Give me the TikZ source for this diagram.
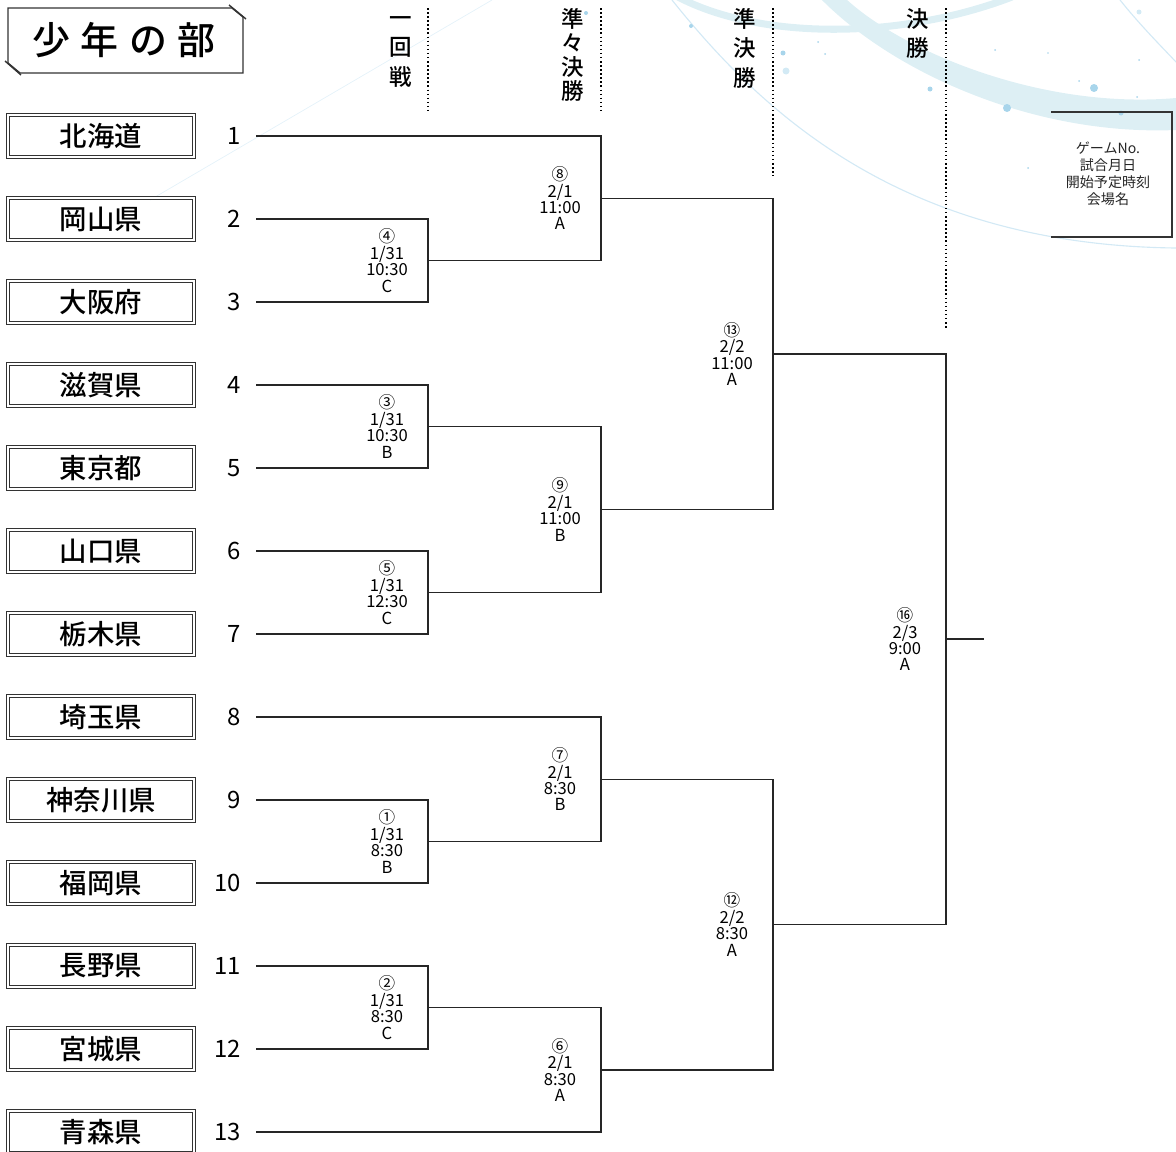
\documentclass[tikz,border=0pt]{standalone}
\usepackage{fontspec}
\setmainfont{Noto Sans CJK JP}
\IfFontExistsTF{Noto Sans CJK JP Medium}
	{\newfontfamily\medfont{Noto Sans CJK JP Medium}}
	{\newfontfamily\medfont{Noto Sans CJK JP}[FakeBold=0.8]}
\usetikzlibrary{positioning}

\definecolor{swoosh}{HTML}{DDEFF4}
\definecolor{dotblue}{HTML}{A8D5EB}
\definecolor{thinblue}{HTML}{D3E9F5}

\tikzset{
	team/.style={draw=black!80, double=white, double distance=1pt, line width=0.7pt, minimum width=4.64cm, minimum height=1.05cm, inner sep=0pt, font=\fontsize{19.5}{19.5}\medfont},
	seed/.style={anchor=east, inner sep=0pt, font=\fontsize{17}{17}\selectfont},
	game/.style={align=center, inner sep=0pt, font=\fontsize{11.8}{11.7}\selectfont},
	roundname/.style={anchor=north, align=center, inner sep=0pt, font=\fontsize{16}{21}\medfont},
	bracket/.style={draw=black!85, line width=1.05pt},
	colsep/.style={draw=black, line width=1.1pt, dash pattern=on 1.1pt off 1.8pt},
}

\begin{document}
\begin{tikzpicture}[x=0.025cm, y=-0.025cm]
		\useasboundingbox (0,0) rectangle (1176,1151);

		%––––– background –––––
		\fill[swoosh] (845,-2) .. controls (900,50) and (1040,110) .. (1176,98) -- (1176,130) .. controls (1030,136) and (890,70) .. (820,-2) -- cycle;
		\draw[swoosh, line width=5pt] (678,-3) .. controls (760,40) and (900,40) .. (1012,-3);
		\draw[thinblue, line width=0.8pt] (672,0) .. controls (760,110) and (900,245) .. (1176,248);
		\draw[thinblue, line width=0.8pt] (1120,0) .. controls (1140,25) and (1160,45) .. (1176,62);
		\draw[thinblue!60, line width=0.5pt] (492,0) -- (150,200);
		\foreach \px/\py/\pr in {586/13/2, 691/26/2, 783/53/2.5, 818/42/1, 825/54/1, 930/89/2.5, 995/50/1, 1048/53/0.8, 1079/81/1, 1094/88/4, 1139/60/1, 1137/97/1, 1007/108/4, 1121/113/2.5, 1028/168/1}
			\fill[dotblue] (\px,\py) circle[radius=\pr];
		\fill[dotblue!50] (786,71) circle[radius=3.5];
		\fill[dotblue!50] (1139,12) circle[radius=2.5];

		%––––– title –––––
		\draw[black!80, line width=1pt] (8,8) -- (232,8) -- (243,17) -- (243,73) -- (20,73) -- (8,63) -- cycle;
		\draw[black!80, line width=1pt] (229,5) -- (246,19);
		\draw[black!80, line width=1pt] (5,61) -- (21,75);
		\node[inner sep=0pt, font=\fontsize{27}{27}\medfont] (title) at (124,40) {少\hspace{7.5pt}年\hspace{7.5pt}の\hspace{7.5pt}部};

		%––––– round names –––––
		\node[roundname] (r1) at (401,8) {\vphantom{回}一\\回\\戦};
		\draw[colsep] (428,8) -- (428,114);
		\node[roundname, font=\fontsize{16}{17}\medfont] (r2) at (573,8) {準\\々\\決\\勝};
		\draw[colsep] (601,8) -- (601,114);
		\node[roundname] (r3) at (745,8) {準\\決\\勝};
		\draw[colsep] (773,8) -- (773,176);
		\node[roundname] (r4) at (918,8) {決\\勝};
		\draw[colsep] (946,8) -- (946,330);

		%––––– key –––––
		\node[align=center, inner sep=0pt, text=black!85, font=\fontsize{10}{12.2}\selectfont] (key) at (1108,174) {ゲームNo.\\試合月日\\開始予定時刻\\会場名};
		\draw[black!80, line width=0.9pt] (1051,112) -- (1172,112) -- (1172,237) -- (1051,237);

		%––––– teams –––––
		\node[team] (t1) at (101,136) {北海道};
		\node[seed] (n1) at (241,136) {1};
		\coordinate (l1) at (256,136);

		\node[team] (t2) at (101,219) {岡山県};
		\node[seed] (n2) at (241,219) {2};
		\coordinate (l2) at (256,219);

		\node[team] (t3) at (101,302) {大阪府};
		\node[seed] (n3) at (241,302) {3};
		\coordinate (l3) at (256,302);

		\node[team] (t4) at (101,385) {滋賀県};
		\node[seed] (n4) at (241,385) {4};
		\coordinate (l4) at (256,385);

		\node[team] (t5) at (101,468) {東京都};
		\node[seed] (n5) at (241,468) {5};
		\coordinate (l5) at (256,468);

		\node[team] (t6) at (101,551) {山口県};
		\node[seed] (n6) at (241,551) {6};
		\coordinate (l6) at (256,551);

		\node[team] (t7) at (101,634) {栃木県};
		\node[seed] (n7) at (241,634) {7};
		\coordinate (l7) at (256,634);

		\node[team] (t8) at (101,717) {埼玉県};
		\node[seed] (n8) at (241,717) {8};
		\coordinate (l8) at (256,717);

		\node[team] (t9) at (101,800) {神奈川県};
		\node[seed] (n9) at (241,800) {9};
		\coordinate (l9) at (256,800);

		\node[team] (t10) at (101,883) {福岡県};
		\node[seed] (n10) at (241,883) {10};
		\coordinate (l10) at (256,883);

		\node[team] (t11) at (101,966) {長野県};
		\node[seed] (n11) at (241,966) {11};
		\coordinate (l11) at (256,966);

		\node[team] (t12) at (101,1049) {宮城県};
		\node[seed] (n12) at (241,1049) {12};
		\coordinate (l12) at (256,1049);

		\node[team] (t13) at (101,1132) {青森県};
		\node[seed] (n13) at (241,1132) {13};
		\coordinate (l13) at (256,1132);

		%––––– first round –––––
		\coordinate (m4) at (428,260.5);
		\node[game] (g4) at (387,260.5) {④\\1/31\\10:30\\C};
		\draw[bracket] (l2) -| (m4) |- (l3);

		\coordinate (m3) at (428,426.5);
		\node[game] (g3) at (387,426.5) {③\\1/31\\10:30\\B};
		\draw[bracket] (l4) -| (m3) |- (l5);

		\coordinate (m5) at (428,592.5);
		\node[game] (g5) at (387,592.5) {⑤\\1/31\\12:30\\C};
		\draw[bracket] (l6) -| (m5) |- (l7);

		\coordinate (m1) at (428,841.5);
		\node[game] (g1) at (387,841.5) {①\\1/31\\8:30\\B};
		\draw[bracket] (l9) -| (m1) |- (l10);

		\coordinate (m2) at (428,1007.5);
		\node[game] (g2) at (387,1007.5) {②\\1/31\\8:30\\C};
		\draw[bracket] (l11) -| (m2) |- (l12);

		%––––– quarter finals –––––
		\coordinate (m8) at (601,198.25);
		\node[game] (g8) at (560,198.25) {⑧\\2/1\\11:00\\A};
		\draw[bracket] (l1) -| (m8) |- (m4);

		\coordinate (m9) at (601,509.5);
		\node[game] (g9) at (560,509.5) {⑨\\2/1\\11:00\\B};
		\draw[bracket] (m3) -| (m9) |- (m5);

		\coordinate (m7) at (601,779.25);
		\node[game] (g7) at (560,779.25) {⑦\\2/1\\8:30\\B};
		\draw[bracket] (l8) -| (m7) |- (m1);

		\coordinate (m6) at (601,1069.75);
		\node[game] (g6) at (560,1069.75) {⑥\\2/1\\8:30\\A};
		\draw[bracket] (m2) -| (m6) |- (l13);

		%––––– semi finals –––––
		\coordinate (m13) at (773,353.9);
		\node[game] (g13) at (732,353.9) {⑬\\2/2\\11:00\\A};
		\draw[bracket] (m8) -| (m13) |- (m9);

		\coordinate (m12) at (773,924.5);
		\node[game] (g12) at (732,924.5) {⑫\\2/2\\8:30\\A};
		\draw[bracket] (m7) -| (m12) |- (m6);

		%––––– final –––––
		\coordinate (m16) at (946,639.2);
		\node[game] (g16) at (905,639.2) {⑯\\2/3\\9:00\\A};
		\draw[bracket] (m13) -| (m16) |- (m12);
		\coordinate (win) at (984,639.2);
		\draw[bracket] (m16) -- (win);
	\end{tikzpicture}
\end{document}
